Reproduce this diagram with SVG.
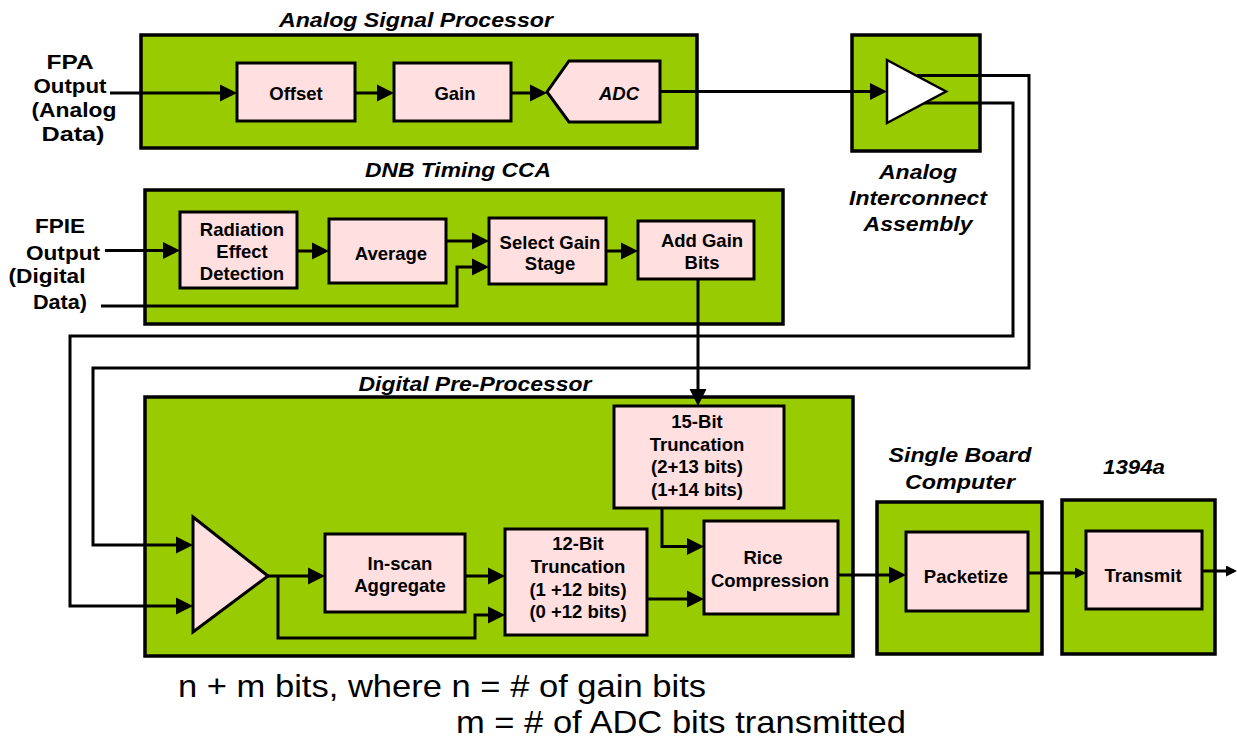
<svg xmlns="http://www.w3.org/2000/svg" width="1237" height="742" viewBox="0 0 1237 742">
<defs>
<style>
.cont{fill:#99CC00;stroke:#000;stroke-width:3.5}
.node{fill:#FFDFDF;stroke:#000;stroke-width:3}
.lbl{font-family:"Liberation Sans",Arial,sans-serif;font-weight:bold;font-size:18.5px;text-anchor:middle;fill:#000}
.ttl{font-family:"Liberation Sans",Arial,sans-serif;font-weight:bold;font-style:italic;font-size:20px;text-anchor:middle;fill:#000}
.io{font-family:"Liberation Sans",Arial,sans-serif;font-weight:bold;font-size:20px;text-anchor:middle;fill:#000}
.note{font-family:"Liberation Sans",Arial,sans-serif;font-size:32px;fill:#000}
.wire{fill:none;stroke:#000;stroke-width:3}
.arr{marker-end:url(#ah)}
.arrs{marker-end:url(#ahs)}
</style>
<marker id="ah" markerUnits="userSpaceOnUse" markerWidth="17" markerHeight="18" refX="13" refY="9" orient="auto"><path d="M0,0.5 L17,9 L0,17.5 z" fill="#000"/></marker>
<marker id="ahs" markerUnits="userSpaceOnUse" markerWidth="11" markerHeight="11" refX="8" refY="5.5" orient="auto"><path d="M0,0 L11,5.5 L0,11 z" fill="#000"/></marker>
</defs>
<rect width="1237" height="742" fill="#fff"/>

<!-- containers -->
<g id="asp">
<rect class="cont" x="141" y="35" width="556" height="113"/>
<text class="ttl" x="416" y="27" textLength="274" lengthAdjust="spacingAndGlyphs">Analog Signal Processor</text>
</g>
<g id="dnb">
<rect class="cont" x="145" y="190" width="638" height="134"/>
<text class="ttl" x="458" y="177" textLength="186" lengthAdjust="spacingAndGlyphs">DNB Timing CCA</text>
</g>
<g id="dpp">
<rect class="cont" x="145" y="397" width="708" height="259"/>
<text class="ttl" x="475" y="391" textLength="233" lengthAdjust="spacingAndGlyphs">Digital Pre-Processor</text>
</g>
<g id="aia">
<rect class="cont" x="852" y="35" width="128" height="116"/>
<text class="ttl" x="918" y="179" textLength="78" lengthAdjust="spacingAndGlyphs">Analog</text>
<text class="ttl" x="918" y="205" textLength="138" lengthAdjust="spacingAndGlyphs">Interconnect</text>
<text class="ttl" x="918" y="231" textLength="109" lengthAdjust="spacingAndGlyphs">Assembly</text>
</g>
<g id="sbc">
<rect class="cont" x="877" y="502" width="165" height="152"/>
<text class="ttl" x="960" y="462" textLength="143" lengthAdjust="spacingAndGlyphs">Single Board</text>
<text class="ttl" x="960" y="489" textLength="110" lengthAdjust="spacingAndGlyphs">Computer</text>
</g>
<g id="ieee1394a">
<rect class="cont" x="1062" y="500" width="153" height="154"/>
<text class="ttl" x="1134" y="474" textLength="62" lengthAdjust="spacingAndGlyphs">1394a</text>
</g>

<!-- inputs -->
<g id="fpa-input">
<text class="io" x="70" y="69" textLength="47" lengthAdjust="spacingAndGlyphs">FPA</text>
<text class="io" x="70" y="93" textLength="73" lengthAdjust="spacingAndGlyphs">Output</text>
<text class="io" x="74" y="117" textLength="85" lengthAdjust="spacingAndGlyphs">(Analog</text>
<text class="io" x="73" y="141" textLength="63" lengthAdjust="spacingAndGlyphs">Data)</text>
</g>
<g id="fpie-input">
<text class="io" x="60" y="233" textLength="50" lengthAdjust="spacingAndGlyphs">FPIE</text>
<text class="io" x="63" y="260" textLength="74" lengthAdjust="spacingAndGlyphs">Output</text>
<text class="io" x="47" y="283" textLength="77" lengthAdjust="spacingAndGlyphs">(Digital</text>
<text class="io" x="60" y="309" textLength="54" lengthAdjust="spacingAndGlyphs">Data)</text>
</g>

<!-- connectors -->
<g id="connectors">
<path class="wire arr" d="M110,93 H233"/>
<path class="wire arr" d="M355,93 H390"/>
<path class="wire arr" d="M511,93 H543"/>
<path class="wire arr" d="M660,91.5 H883"/>
<path class="wire arr" d="M917,75.5 H1029 V368 H93 V545 H189"/>
<path class="wire arr" d="M924,103 H1013 V336 H70 V606 H189"/>
<path class="wire arr" d="M105,250.5 H176"/>
<path class="wire arr" d="M297,251 H325"/>
<path class="wire arr" d="M446,241 H485"/>
<path class="wire arr" d="M101,306 H457 V267 H485"/>
<path class="wire arr" d="M606,251 H634"/>
<path class="wire arr" d="M698,279 V402"/>
<path class="wire arr" d="M268,576 H321"/>
<path class="wire arr" d="M278,576 V638 H475 V615 H501"/>
<path class="wire arr" d="M465,576 H501"/>
<path class="wire arr" d="M647,599 H700"/>
<path class="wire arr" d="M662,508 V546.5 H700"/>
<path class="wire arr" d="M838,575 H902"/>
<path class="wire arrs" d="M1028,573 H1083"/>
<path class="wire arrs" d="M1202,571 H1234"/>
</g>

<!-- nodes -->
<g id="offset">
<rect class="node" x="237" y="63" width="118" height="58"/>
<text class="lbl" x="296" y="99.5">Offset</text>
</g>
<g id="gain">
<rect class="node" x="394" y="63" width="117" height="58"/>
<text class="lbl" x="455" y="99.5">Gain</text>
</g>
<g id="adc">
<polygon class="node" points="569,61 660,61 660,122 569,122 547,92"/>
<text class="lbl" x="619" y="99.5" font-style="italic">ADC</text>
</g>
<g id="aia-amp">
<polygon points="887,60 946,91.5 887,123" fill="#fff" stroke="#000" stroke-width="2.5"/>
</g>
<g id="radiation">
<rect class="node" x="180" y="212" width="117" height="76"/>
<text class="lbl" x="242" y="236">Radiation</text>
<text class="lbl" x="242" y="258">Effect</text>
<text class="lbl" x="242" y="280">Detection</text>
</g>
<g id="average">
<rect class="node" x="329" y="219" width="117" height="64"/>
<text class="lbl" x="391" y="260">Average</text>
</g>
<g id="select-gain">
<rect class="node" x="489" y="218" width="117" height="66"/>
<text class="lbl" x="550" y="249">Select Gain</text>
<text class="lbl" x="550" y="270">Stage</text>
</g>
<g id="add-gain">
<rect class="node" x="638" y="221" width="116" height="58"/>
<text class="lbl" x="702" y="247">Add Gain</text>
<text class="lbl" x="702" y="269">Bits</text>
</g>
<g id="trunc15">
<rect class="node" x="614" y="406" width="170" height="102"/>
<text class="lbl" x="697" y="428">15-Bit</text>
<text class="lbl" x="697" y="450.5">Truncation</text>
<text class="lbl" x="697" y="473">(2+13 bits)</text>
<text class="lbl" x="697" y="495.5">(1+14 bits)</text>
</g>
<g id="dpp-amp">
<polygon class="node" points="193,517 268,576 193,632"/>
</g>
<g id="inscan">
<rect class="node" x="325" y="534" width="140" height="78"/>
<text class="lbl" x="400" y="570">In-scan</text>
<text class="lbl" x="400" y="592">Aggregate</text>
</g>
<g id="trunc12">
<rect class="node" x="505" y="529" width="142" height="106"/>
<text class="lbl" x="578" y="550">12-Bit</text>
<text class="lbl" x="578" y="572.5">Truncation</text>
<text class="lbl" x="578" y="596">(1 +12 bits)</text>
<text class="lbl" x="578" y="618">(0 +12 bits)</text>
</g>
<g id="rice">
<rect class="node" x="704" y="521" width="134" height="93"/>
<text class="lbl" x="763" y="564">Rice</text>
<text class="lbl" x="770" y="586.5">Compression</text>
</g>
<g id="packetize">
<rect class="node" x="906" y="532" width="122" height="79"/>
<text class="lbl" x="966" y="582.5">Packetize</text>
</g>
<g id="transmit">
<rect class="node" x="1086" y="531" width="116" height="78"/>
<text class="lbl" x="1143" y="581.5">Transmit</text>
</g>

<g id="note">
<text class="note" x="178" y="697" textLength="528" lengthAdjust="spacingAndGlyphs">n + m bits, where n = # of gain bits</text>
<text class="note" x="456" y="733" textLength="450" lengthAdjust="spacingAndGlyphs">m = # of ADC bits transmitted</text>
</g>
</svg>
